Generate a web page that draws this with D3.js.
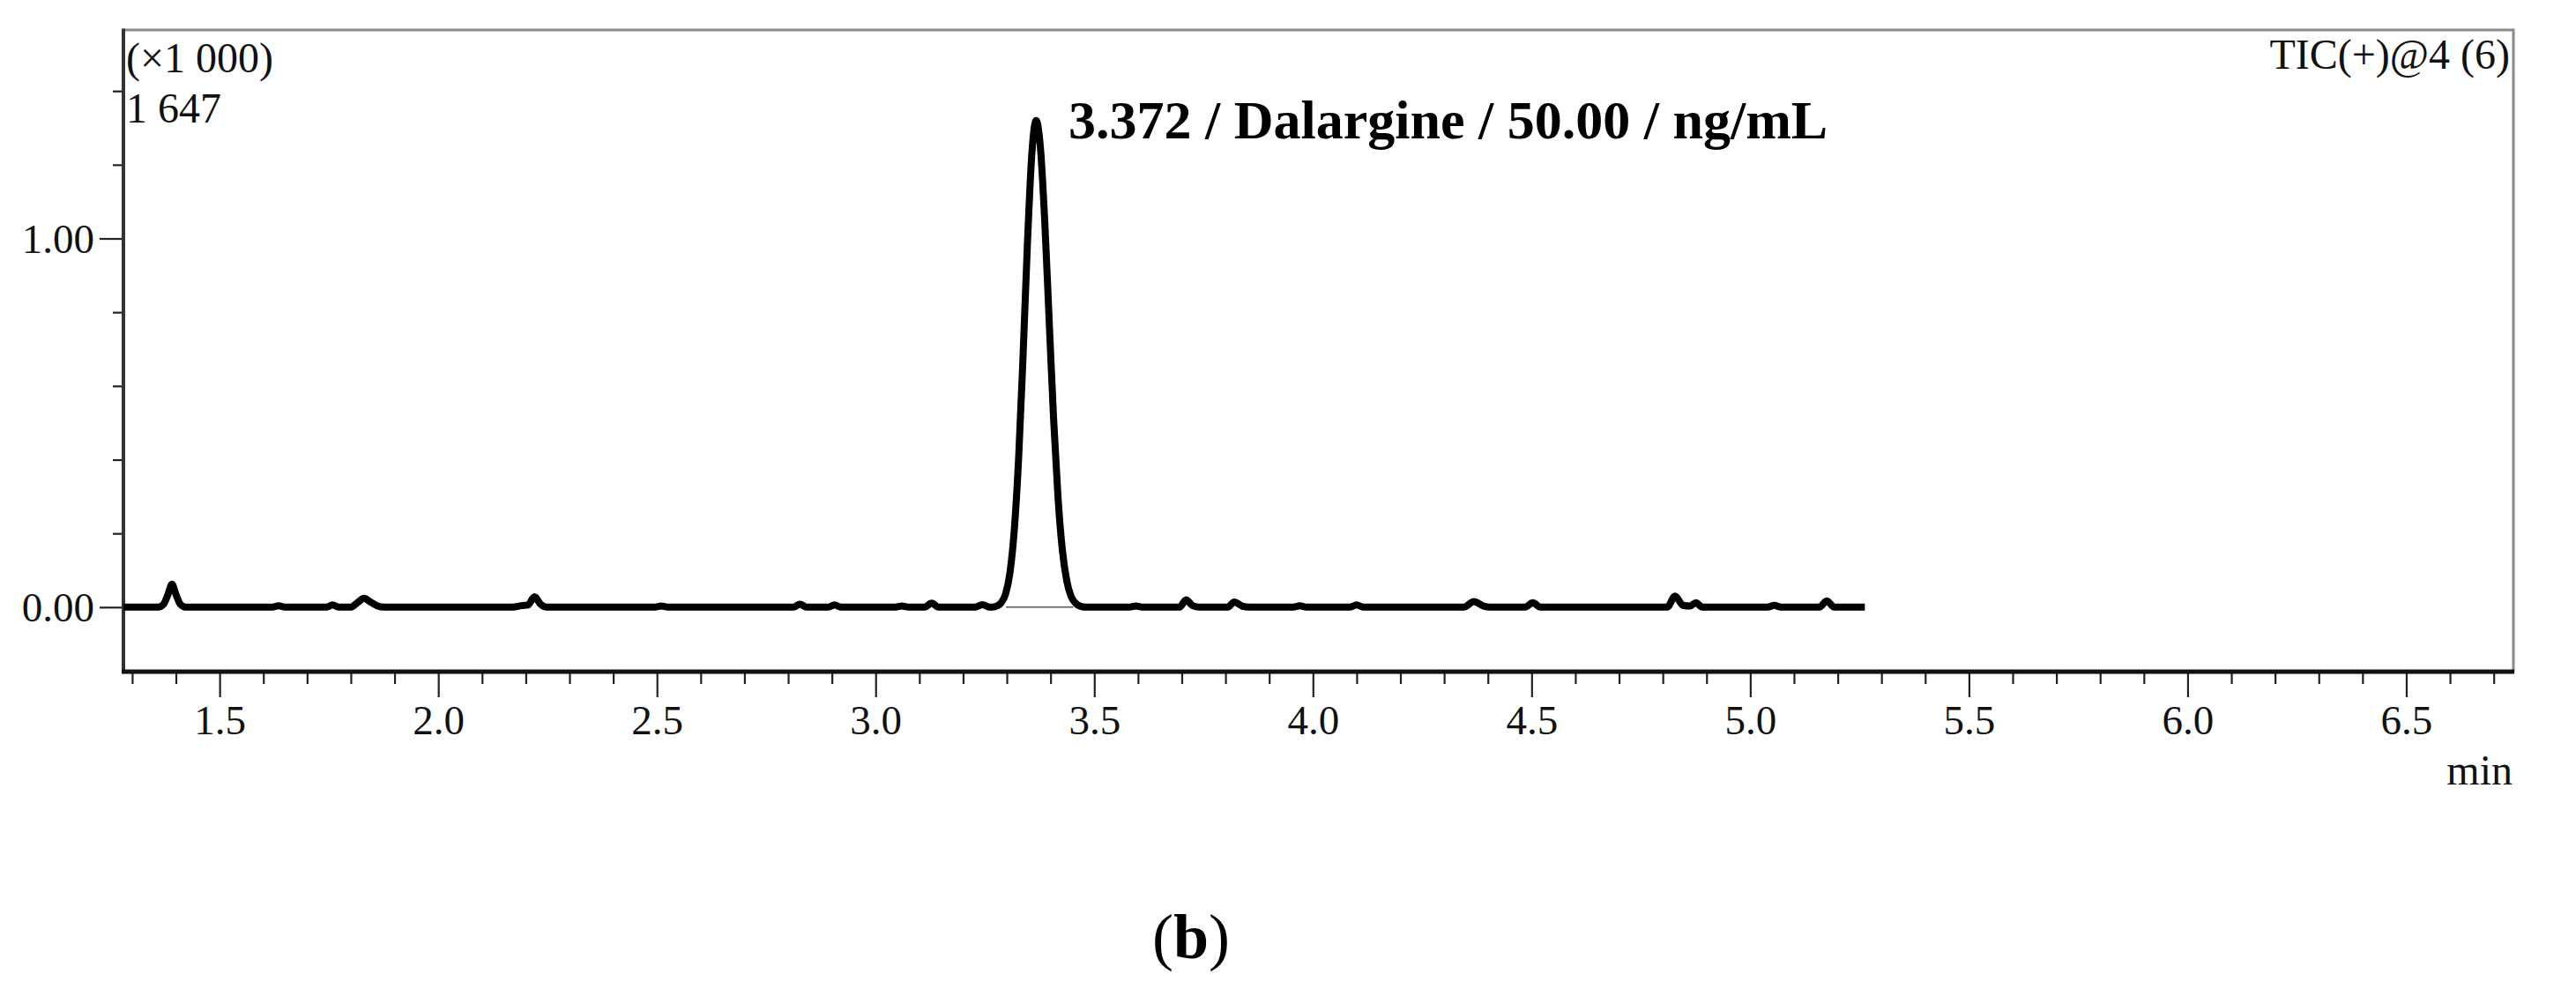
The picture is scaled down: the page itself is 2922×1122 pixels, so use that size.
<!DOCTYPE html>
<html><head><meta charset="utf-8">
<script src="https://cdn.jsdelivr.net/npm/d3@7"></script>
<style>body{margin:0;background:#fff} svg{display:block}</style>
</head><body>
<svg id="c" width="2922" height="1122"></svg>
<script>
// ---- data ----
const times = [1.280,1.360,1.372,1.382,1.391,1.400,1.410,1.422,1.620,1.635,1.650,1.745,1.758,1.772,
1.800,1.815,1.830,1.845,1.860,1.878,2.170,2.190,2.205,2.220,2.234,2.248,2.495,2.510,2.525,
2.812,2.827,2.842,2.892,2.906,2.920,3.045,3.060,3.075,3.112,3.128,3.144,3.228,3.244,3.260,
3.267,3.277,3.287,3.297,3.307,3.317,3.327,3.337,3.347,3.357,3.367,3.377,3.387,3.397,3.407,3.417,3.427,3.437,3.447,3.457,3.467,3.480,
3.580,3.595,3.610,3.695,3.710,3.725,3.740,3.805,3.820,3.838,3.855,3.955,3.970,3.985,4.085,4.100,4.115,
4.345,4.368,4.390,4.405,4.485,4.503,4.520,4.810,4.828,4.846,4.862,4.876,4.890,5.040,5.055,5.070,5.158,5.175,5.192,5.262];
const intensities = [0.000,0.000,0.008,0.035,0.062,0.035,0.008,0.000,0.000,0.004,0.000,0.000,0.006,0.000,
0.000,0.012,0.024,0.014,0.004,0.000,0.000,0.004,0.006,0.028,0.008,0.000,0.000,0.003,0.000,
0.000,0.008,0.000,0.000,0.006,0.000,0.000,0.003,0.000,0.000,0.011,0.000,0.000,0.007,0.000,
0.000,0.003,0.012,0.035,0.092,0.208,0.404,0.678,0.982,1.226,1.320,1.244,1.040,0.773,0.510,0.299,0.155,0.072,0.029,0.011,0.003,0.000,
0.000,0.003,0.000,0.000,0.020,0.004,0.000,0.000,0.014,0.003,0.000,0.000,0.004,0.000,0.000,0.006,0.000,
0.000,0.015,0.003,0.000,0.000,0.012,0.000,0.000,0.030,0.005,0.003,0.012,0.000,0.000,0.005,0.000,0.000,0.017,0.000,0.000];
const integrationStart = 3.298, integrationEnd = 3.452;
const xMajorTicks = [1.5,2.0,2.5,3.0,3.5,4.0,4.5,5.0,5.5,6.0,6.5];
const xMajorLabels = ["1.5","2.0","2.5","3.0","3.5","4.0","4.5","5.0","5.5","6.0","6.5"];
const xMinorTicks = [1.3,1.4,1.6,1.7,1.8,1.9,2.1,2.2,2.3,2.4,2.6,2.7,2.8,2.9,3.1,3.2,3.3,3.4,3.6,3.7,3.8,3.9,
4.1,4.2,4.3,4.4,4.6,4.7,4.8,4.9,5.1,5.2,5.3,5.4,5.6,5.7,5.8,5.9,6.1,6.2,6.3,6.4,6.6,6.7];
const yMajorTicks = [0, 1.0];
const yMajorLabels = ["0.00","1.00"];
const yMinorTicks = [0.2,0.4,0.6,0.8,1.2,1.4];
const scaleLabel = "(\u00d71 000)";
const maxLabel = "1 647";
const traceLabel = "TIC(+)@4 (6)";
const peakLabel = "3.372 / Dalargine / 50.00 / ng/mL";
const xUnit = "min";

// ---- layout ----
const L = 140, R = 2851, T = 34, B = 762;
const svg = d3.select("#c");
const font = "'Liberation Serif','Times New Roman',serif";
const x = d3.scaleLinear().domain([1.28, 6.745]).range([L, R]);
const y = d3.scaleLinear().domain([-0.175, 1.5655]).range([B, T]);

function styleAxis(g){ g.select(".domain").remove(); g.selectAll("line").attr("stroke","#222").attr("stroke-width",2.2); }
svg.append("g").attr("transform",`translate(0,${B})`)
  .call(d3.axisBottom(x).tickValues(xMinorTicks).tickSize(14).tickFormat(""))
  .call(styleAxis);
const gx = svg.append("g").attr("transform",`translate(0,${B})`)
  .call(d3.axisBottom(x).tickValues(xMajorTicks).tickSize(29).tickFormat((d,i)=>xMajorLabels[i]))
  .call(styleAxis);
gx.selectAll("text").attr("y",71).attr("dy",null).attr("font-family",font).attr("font-size",47).attr("fill","#111");

svg.append("g").attr("transform",`translate(${L},0)`)
  .call(d3.axisLeft(y).tickValues(yMinorTicks).tickSize(12).tickFormat(""))
  .call(styleAxis);
const gy = svg.append("g").attr("transform",`translate(${L},0)`)
  .call(d3.axisLeft(y).tickValues(yMajorTicks).tickSize(27).tickPadding(6).tickFormat((d,i)=>yMajorLabels[i]))
  .call(styleAxis);
gy.selectAll("text").attr("font-family",font).attr("font-size",47).attr("fill","#111").attr("dy","0.34em");

// frame
svg.append("line").attr("x1",L).attr("x2",R).attr("y1",T).attr("y2",T).attr("stroke","#8a8a8a").attr("stroke-width",3);
svg.append("line").attr("x1",R).attr("x2",R).attr("y1",T-1.5).attr("y2",B).attr("stroke","#8a8a8a").attr("stroke-width",3);
svg.append("line").attr("x1",L).attr("x2",L).attr("y1",T-1.5).attr("y2",B).attr("stroke","#333").attr("stroke-width",4);
svg.append("line").attr("x1",L-2).attr("x2",R+1).attr("y1",B).attr("y2",B).attr("stroke","#111").attr("stroke-width",5);

// integration baseline
svg.append("line").attr("x1",x(integrationStart)).attr("x2",x(integrationEnd))
  .attr("y1",y(0)).attr("y2",y(0)).attr("stroke","#555").attr("stroke-width",1.5);

// trace
const pts = times.map((t,i)=>[t,intensities[i]]);
svg.append("path").datum(pts)
  .attr("d", d3.line().x(d=>x(d[0])).y(d=>y(d[1])).curve(d3.curveMonotoneX))
  .attr("fill","none").attr("stroke","#000").attr("stroke-width",8)
  .attr("stroke-linejoin","round").attr("stroke-linecap","butt");

// texts
const txt = (s,xx,yy,size,anchor,weight)=>svg.append("text").attr("x",xx).attr("y",yy)
  .attr("font-family",font).attr("font-size",size).attr("text-anchor",anchor||"start")
  .attr("font-weight",weight||"normal").attr("fill","#111").text(s);
txt(scaleLabel, 143, 82, 48);
txt(maxLabel, 143, 139, 48);
txt(traceLabel, 2847, 78, 48, "end");
txt(peakLabel, 1212, 157, 62, "start", "bold").attr("fill","#000");
txt(xUnit, 2850, 890, 48, "end");
const pb = svg.append("text").attr("x",1351).attr("y",1087).attr("font-family",font)
  .attr("font-size",72).attr("text-anchor","middle").attr("fill","#000");
pb.append("tspan").text("(");
pb.append("tspan").attr("font-weight","bold").text("b");
pb.append("tspan").text(")");
</script>
</body></html>
